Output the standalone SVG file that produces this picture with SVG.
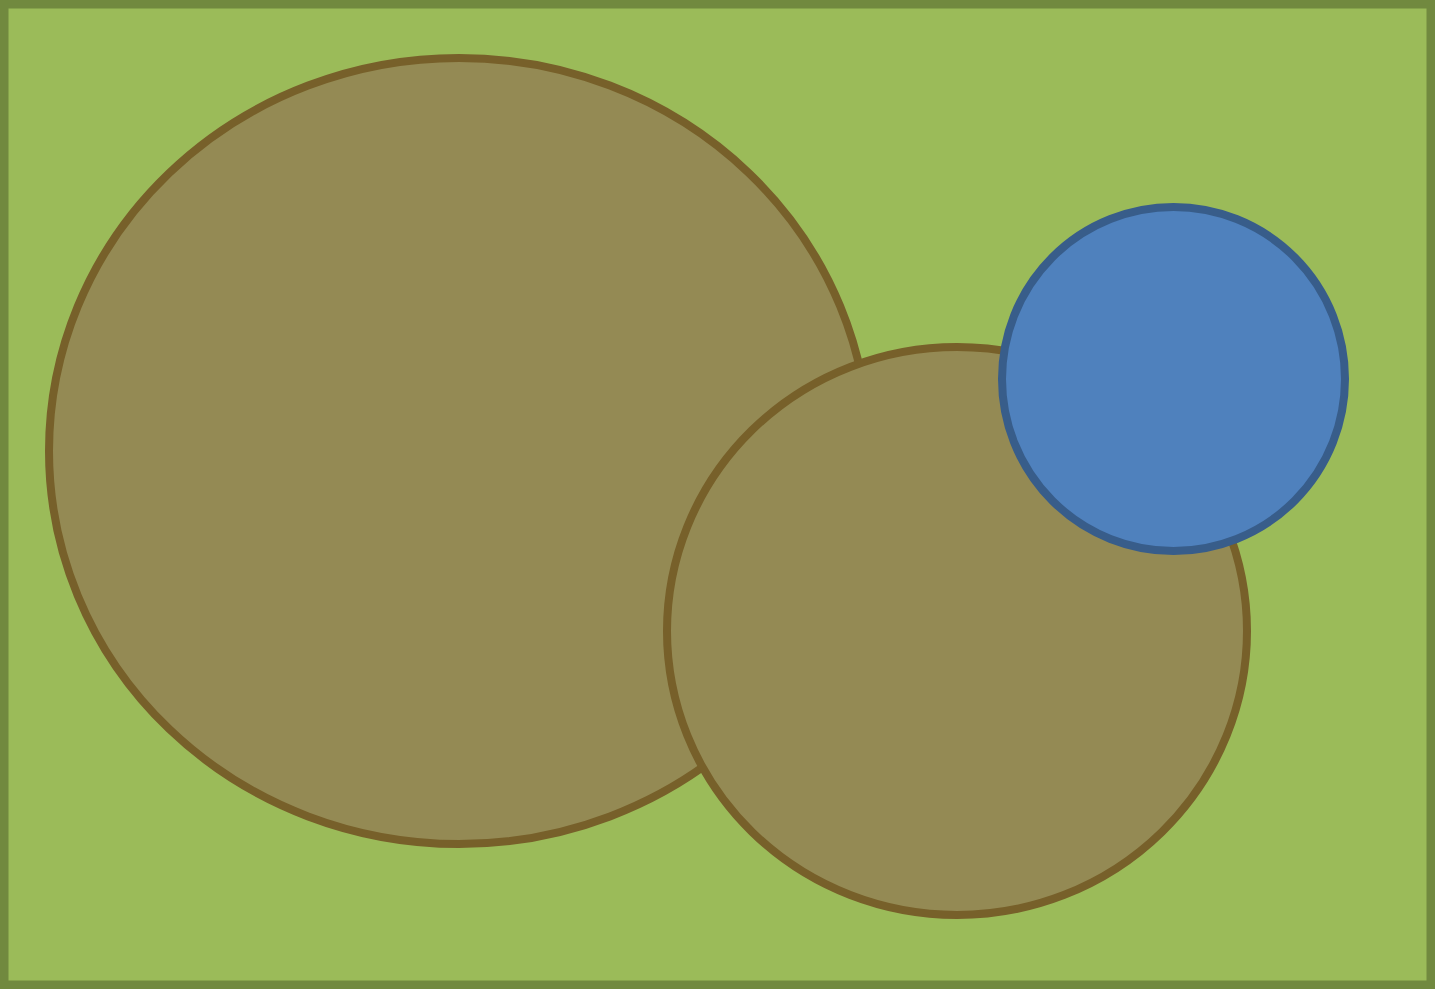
<svg xmlns="http://www.w3.org/2000/svg" width="1435" height="989" viewBox="0 0 1435 989">
<style>
.ground{fill:#9BBB59;stroke:#71893F;stroke-width:8.5}
.brown{fill:#948A54;stroke:#77602A;stroke-width:8}
.blue{fill:#4F81BD;stroke:#385D8A;stroke-width:8}
</style>
<rect class="ground" x="4.25" y="4.25" width="1426.5" height="980.5"/>
<g id="big-circle"><ellipse class="brown" cx="459" cy="451" rx="410" ry="393"/></g>
<g id="mid-circle"><ellipse class="brown" cx="957" cy="631" rx="290" ry="284"/></g>
<g id="blue-circle"><ellipse class="blue" cx="1173.5" cy="379" rx="171.5" ry="172"/></g>
<g id="connectors"/>
</svg>
